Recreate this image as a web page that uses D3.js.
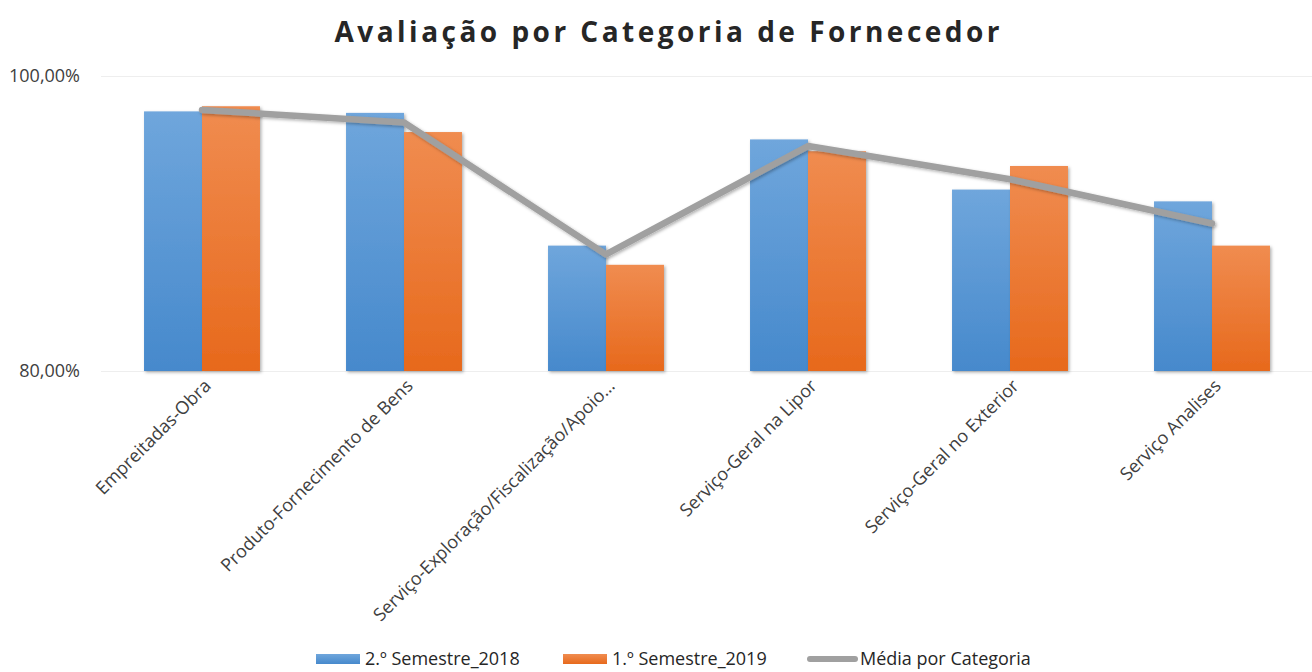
<!DOCTYPE html>
<html>
<head>
<meta charset="utf-8">
<script src="https://cdn.jsdelivr.net/npm/d3@7"></script>
<style>
body { margin: 0; background: #fff; }
text { font-family: "Open Sans", sans-serif; }
</style>
</head>
<body>
<svg></svg>
<script>
var svgWidth = 1312;
var svgHeight = 672;

var categories = ["Empreitadas-Obra", "Produto-Fornecimento de Bens", "Serviço-Exploração/Fiscalização/Apoio…",
    "Serviço-Geral na Lipor", "Serviço-Geral no Exterior", "Serviço Analises"];
var semestre2018 = [97.6, 97.5, 88.5, 95.7, 92.3, 91.5];
var semestre2019 = [97.95, 96.2, 87.2, 94.9, 93.9, 88.5];
var mediaCategoria = [97.7, 96.85, 87.9, 95.25, 93.0, 90.0];
var seriesNames = ["2.º Semestre_2018", "1.º Semestre_2019", "Média por Categoria"];
var yTicks = [80, 100];

var plotLeft = 101, plotRight = 1313, plotTop = 76, plotBottom = 371;

var svg = d3.select("svg")
    .attr("width", svgWidth)
    .attr("height", svgHeight);

var defs = svg.append("defs");

function gradient(id, top, bottom) {
    var g = defs.append("linearGradient").attr("id", id)
        .attr("x1", 0).attr("x2", 0).attr("y1", 0).attr("y2", 1);
    g.append("stop").attr("offset", "0%").attr("stop-color", top);
    g.append("stop").attr("offset", "100%").attr("stop-color", bottom);
}
gradient("gradBlue", "#6fa6dc", "#4689cc");
gradient("gradOrange", "#f08c50", "#e7691c");

var shadow = defs.append("filter").attr("id", "shadow")
    .attr("x", "-20%").attr("y", "-20%").attr("width", "140%").attr("height", "140%");
shadow.append("feDropShadow").attr("dx", 1.5).attr("dy", 1.5)
    .attr("stdDeviation", 1.5).attr("flood-color", "#000").attr("flood-opacity", 0.3);

var x = d3.scaleBand()
    .domain(categories)
    .range([plotLeft, plotRight])
    .paddingInner(0.426)
    .paddingOuter(0.213);

var xSub = d3.scaleBand()
    .domain([0, 1])
    .range([0, x.bandwidth()]);

var xCenter = function (d) { return x(d) + x.bandwidth() / 2; };

var y = d3.scaleLinear()
    .domain([80, 100])
    .range([plotBottom, plotTop]);

// title
svg.append("text")
    .attr("x", 667)
    .attr("y", 42)
    .attr("text-anchor", "middle")
    .attr("font-size", 28)
    .attr("font-weight", "bold")
    .attr("textLength", 665)
    .attr("fill", "#262626")
    .text("Avaliação por Categoria de Fornecedor");

// gridlines
svg.append("g")
    .selectAll("line")
    .data(yTicks)
    .join("line")
    .attr("x1", plotLeft)
    .attr("x2", plotRight)
    .attr("y1", function (d) { return y(d) + 0.5; })
    .attr("y2", function (d) { return y(d) + 0.5; })
    .attr("stroke", "#eeeeee")
    .attr("stroke-width", 1);

// y axis
var yAxis = svg.append("g")
    .attr("transform", "translate(" + (plotLeft - 18) + ",0)")
    .call(d3.axisLeft(y).tickValues(yTicks).tickSize(0)
        .tickFormat(function (d) { return d3.format(".2f")(d).replace(".", ",") + "%"; }));
yAxis.select(".domain").remove();
yAxis.selectAll("text")
    .attr("font-size", 18)
    .attr("fill", "#404040")
    .style("font-family", "'Open Sans', sans-serif");

// bars
var seriesData = [semestre2018, semestre2019];
var fills = ["url(#gradBlue)", "url(#gradOrange)"];

seriesData.forEach(function (values, s) {
    svg.append("g")
        .selectAll("rect")
        .data(values)
        .join("rect")
        .attr("x", function (d, i) { return x(categories[i]) + xSub(s); })
        .attr("y", function (d) { return y(d); })
        .attr("width", xSub.bandwidth())
        .attr("height", function (d) { return plotBottom - y(d); })
        .attr("fill", fills[s])
        .attr("filter", "url(#shadow)");
});

// average line
var line = d3.line()
    .x(function (d, i) { return xCenter(categories[i]); })
    .y(function (d) { return y(d); });

svg.append("path")
    .datum(mediaCategoria)
    .attr("d", line)
    .attr("fill", "none")
    .attr("stroke", "#a0a0a0")
    .attr("stroke-width", 6.5)
    .attr("stroke-linejoin", "round")
    .attr("stroke-linecap", "round")
    .attr("filter", "url(#shadow)");

// x axis labels
var xAxis = svg.append("g")
    .attr("transform", "translate(0," + plotBottom + ")")
    .call(d3.axisBottom(x).tickSize(0));
xAxis.select(".domain").remove();
xAxis.selectAll("text")
    .attr("font-size", 18)
    .attr("fill", "#404040")
    .attr("text-anchor", "end")
    .attr("dy", 0)
    .attr("transform", "translate(10,16) rotate(-45)")
    .attr("y", 0)
    .attr("x", 0);

// legend
var legendItems = [
    { name: seriesNames[0], type: "rect", fill: "url(#gradBlue)", sx: 316, tx: 365 },
    { name: seriesNames[1], type: "rect", fill: "url(#gradOrange)", sx: 563, tx: 612 },
    { name: seriesNames[2], type: "line", fill: "#a0a0a0", sx: 807, tx: 860 }
];
var legendY = 659;
var legend = svg.append("g");
legendItems.forEach(function (item) {
    if (item.type == "rect") {
        legend.append("rect")
            .attr("x", item.sx).attr("y", legendY - 5)
            .attr("width", 44).attr("height", 10)
            .attr("fill", item.fill);
    } else {
        legend.append("line")
            .attr("x1", item.sx + 3).attr("x2", item.sx + 48)
            .attr("y1", legendY).attr("y2", legendY)
            .attr("stroke", item.fill).attr("stroke-width", 6)
            .attr("stroke-linecap", "round");
    }
    legend.append("text")
        .attr("x", item.tx)
        .attr("y", legendY + 6)
        .attr("font-size", 18)
        .attr("fill", "#262626")
        .text(item.name);
});
</script>
</body>
</html>
